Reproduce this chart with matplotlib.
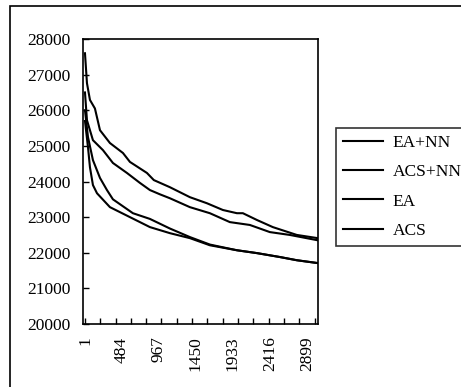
import numpy as np
import matplotlib
matplotlib.use("Agg")
import matplotlib.pyplot as plt
from matplotlib.patches import Rectangle

plt.rcParams['font.family'] = ['Liberation Serif', 'DejaVu Serif']

# Values (iteration -> objective value)
ea_x = [1, 27, 66, 131, 197, 327, 497, 588, 810, 900, 1110, 1371, 1593, 1802,
        1985, 2063, 2246, 2454, 2767, 3040]
ea_y = [27600, 26760, 26290, 26050, 25440, 25080, 24800, 24550, 24240, 24040,
        23840, 23560, 23390, 23200, 23110, 23110, 22920, 22720, 22500, 22410]

acs_x = [1, 27, 105, 236, 366, 549, 719, 849, 980, 1110, 1371, 1632, 1893,
         2154, 2415, 2676, 3040]
acs_y = [26500, 25720, 25160, 24880, 24520, 24240, 23960, 23760, 23640, 23530,
         23280, 23110, 22860, 22780, 22580, 22500, 22350]

eann_x = [1, 40, 105, 197, 288, 366, 627, 849, 1110, 1371, 1632, 1985, 2246,
          2546, 2767, 3040]
eann_y = [26000, 25250, 24600, 24100, 23760, 23500, 23110, 22950, 22680,
          22440, 22230, 22070, 21990, 21880, 21790, 21710]

acsnn_x = [1, 40, 66, 105, 158, 327, 588, 849, 1110, 1371, 1632, 1985, 2246,
           2546, 2767, 3040]
acsnn_y = [25700, 24970, 24400, 23900, 23670, 23280, 23000, 22720, 22550,
           22410, 22210, 22070, 21990, 21880, 21790, 21710]

x_labels = [1, 484, 967, 1450, 1933, 2416, 2899]
y_ticks = [20000, 21000, 22000, 23000, 24000, 25000, 26000, 27000, 28000]

fig = plt.figure(figsize=(4.61, 3.87), dpi=100)
ax = fig.add_axes([0.180, 0.1628, 0.510, 0.7364])

lw = 1.5
ax.plot(eann_x, eann_y, color='black', lw=lw, label='EA+NN')
ax.plot(acsnn_x, acsnn_y, color='black', lw=lw, label='ACS+NN')
ax.plot(ea_x, ea_y, color='black', lw=lw, label='EA')
ax.plot(acs_x, acs_y, color='black', lw=lw, label='ACS')

ax.set_xlim(-25, 3045)
ax.set_ylim(20000, 28000)
ax.set_yticks(y_ticks)
ax.set_xticks(x_labels)
ax.set_xticklabels([str(v) for v in x_labels], rotation=90)
ax.set_xticks(np.arange(0, 3001, 200), minor=True)

ax.tick_params(axis='y', direction='in', length=4, width=1, pad=9, labelsize=12.5)
ax.tick_params(axis='x', which='major', length=0, pad=9, labelsize=12.5)
ax.tick_params(axis='x', which='minor', direction='in', length=4, width=1)
for s in ax.spines.values():
    s.set_linewidth(1.2)

leg = ax.legend(loc='upper left', bbox_to_anchor=(0.729, 0.669),
                bbox_transform=fig.transFigure, fontsize=12.5, frameon=True,
                fancybox=False, shadow=False, handlelength=2.3,
                handletextpad=0.55, labelspacing=0.75, borderpad=0.4,
                borderaxespad=0)
leg.get_frame().set_edgecolor('black')
leg.get_frame().set_linewidth(1.2)

# outer chart frame
fig.patches.append(Rectangle((10 / 461, -0.1), 1.2, 1.1 - 6 / 387,
                             transform=fig.transFigure, fill=False,
                             edgecolor='black', lw=1.2))

fig.savefig("out.png", dpi=100)
